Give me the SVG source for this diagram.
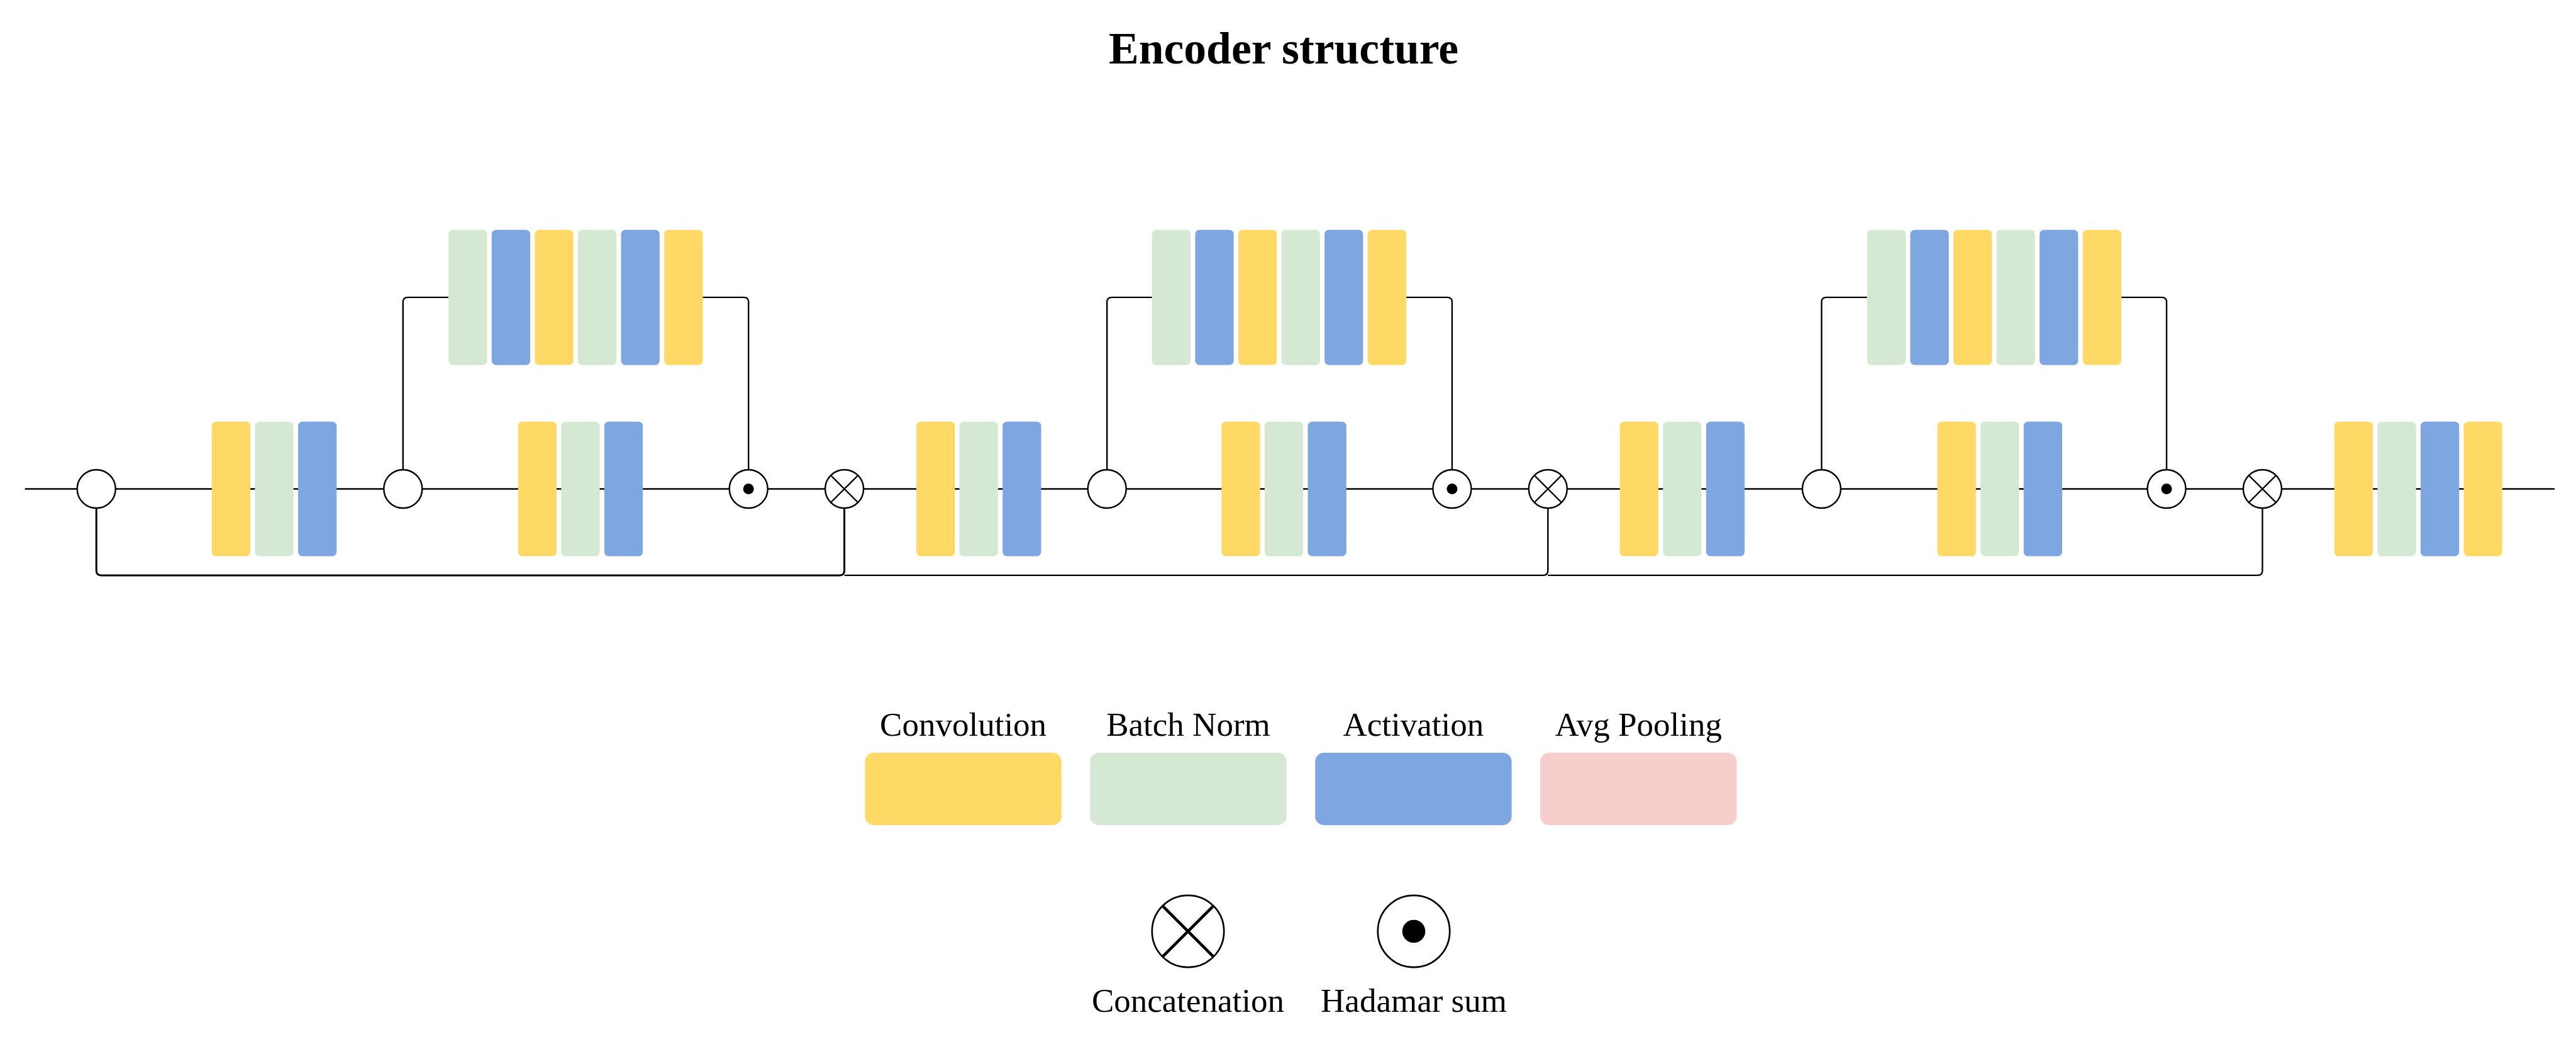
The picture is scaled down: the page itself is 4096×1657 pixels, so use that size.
<svg xmlns="http://www.w3.org/2000/svg" width="4096" height="1657" viewBox="0 0 4096 1657">
<style>
.y{fill:#FFD966}.g{fill:#D5E8D4}.b{fill:#7EA6E0}.p{fill:#F8CECC}
.ln{fill:none;stroke:#000;stroke-width:2.4}
.bus{fill:none;stroke:#000;stroke-width:3}
.op{fill:#fff;stroke:#000;stroke-width:2.4}
.x{stroke:#000;stroke-width:2.4}
.t{font-family:"Liberation Serif","Times New Roman",serif;fill:#000;text-anchor:middle}
</style>
<rect width="4096" height="1657" fill="#fff"/>
<text class="t" x="2041" y="101" font-size="71.6" font-weight="bold">Encoder structure</text>

<g id="connectors">
  <path class="ln" d="M39.6,777.5 H4062"/>
  <path class="bus" d="M153.2,808 V907.3 Q153.2,914.9 160.8,914.9 H1335 Q1342.6,914.9 1342.6,907.3 V808"/>
  <path class="ln" d="M1342.6,914.9 H2453.7 Q2461.3,914.9 2461.3,907.3 V808"/>
  <path class="ln" d="M2461.3,914.9 H3589.8 Q3597.4,914.9 3597.4,907.3 V808"/>
  <path class="ln" d="M640.8,747 V480.5 Q640.8,472.9 648.4,472.9 H713.2"/>
  <path class="ln" d="M1117.4,472.9 H1182.6 Q1190.2,472.9 1190.2,480.5 V747"/>
  <path class="ln" d="M1760.2,747 V480.5 Q1760.2,472.9 1767.8,472.9 H1831.8"/>
  <path class="ln" d="M2236,472.9 H2301.3 Q2308.9,472.9 2308.9,480.5 V747"/>
  <path class="ln" d="M2896.4,747 V480.5 Q2896.4,472.9 2904,472.9 H2968.8"/>
  <path class="ln" d="M3373,472.9 H3437.4 Q3445,472.9 3445,480.5 V747"/>
</g>

<g id="split1"><circle class="op" cx="153.2" cy="777.5" r="30.5"/></g>
<g id="block1">
  <rect class="y" x="336.8" y="670.5" width="61.3" height="214" rx="7"/>
  <rect class="g" x="405.4" y="670.5" width="61.3" height="214" rx="7"/>
  <rect class="b" x="474" y="670.5" width="61.3" height="214" rx="7"/>
</g>
<g id="split2"><circle class="op" cx="640.8" cy="777.5" r="30.5"/></g>
<g id="block2">
  <rect class="y" x="823.7" y="670.5" width="61.3" height="214" rx="7"/>
  <rect class="g" x="892.3" y="670.5" width="61.3" height="214" rx="7"/>
  <rect class="b" x="960.9" y="670.5" width="61.3" height="214" rx="7"/>
</g>
<g id="top1">
  <rect class="g" x="713.2" y="365.5" width="61.3" height="215" rx="7"/>
  <rect class="b" x="781.8" y="365.5" width="61.3" height="215" rx="7"/>
  <rect class="y" x="850.4" y="365.5" width="61.3" height="215" rx="7"/>
  <rect class="g" x="918.9" y="365.5" width="61.3" height="215" rx="7"/>
  <rect class="b" x="987.5" y="365.5" width="61.3" height="215" rx="7"/>
  <rect class="y" x="1056.1" y="365.5" width="61.3" height="215" rx="7"/>
</g>
<g id="hadamard1"><circle class="op" cx="1190.2" cy="777.5" r="30.5"/><circle cx="1190.2" cy="777.5" r="8.5"/></g>
<g id="concat1"><circle class="op" cx="1342.6" cy="777.5" r="30.5"/><path class="x" d="M1321,756 L1364.2,799 M1364.2,756 L1321,799"/></g>

<g id="block3">
  <rect class="y" x="1457" y="670.5" width="61.3" height="214" rx="7"/>
  <rect class="g" x="1525.6" y="670.5" width="61.3" height="214" rx="7"/>
  <rect class="b" x="1594.2" y="670.5" width="61.3" height="214" rx="7"/>
</g>
<g id="split3"><circle class="op" cx="1760.2" cy="777.5" r="30.5"/></g>
<g id="block4">
  <rect class="y" x="1942.3" y="670.5" width="61.3" height="214" rx="7"/>
  <rect class="g" x="2010.9" y="670.5" width="61.3" height="214" rx="7"/>
  <rect class="b" x="2079.5" y="670.5" width="61.3" height="214" rx="7"/>
</g>
<g id="top2">
  <rect class="g" x="1831.8" y="365.5" width="61.3" height="215" rx="7"/>
  <rect class="b" x="1900.4" y="365.5" width="61.3" height="215" rx="7"/>
  <rect class="y" x="1969" y="365.5" width="61.3" height="215" rx="7"/>
  <rect class="g" x="2037.5" y="365.5" width="61.3" height="215" rx="7"/>
  <rect class="b" x="2106.1" y="365.5" width="61.3" height="215" rx="7"/>
  <rect class="y" x="2174.7" y="365.5" width="61.3" height="215" rx="7"/>
</g>
<g id="hadamard2"><circle class="op" cx="2308.9" cy="777.5" r="30.5"/><circle cx="2308.9" cy="777.5" r="8.5"/></g>
<g id="concat2"><circle class="op" cx="2461.3" cy="777.5" r="30.5"/><path class="x" d="M2439.7,756 L2482.9,799 M2482.9,756 L2439.7,799"/></g>

<g id="block5">
  <rect class="y" x="2575.6" y="670.5" width="61.3" height="214" rx="7"/>
  <rect class="g" x="2644.2" y="670.5" width="61.3" height="214" rx="7"/>
  <rect class="b" x="2712.8" y="670.5" width="61.3" height="214" rx="7"/>
</g>
<g id="split4"><circle class="op" cx="2896.4" cy="777.5" r="30.5"/></g>
<g id="block6">
  <rect class="y" x="3080.5" y="670.5" width="61.3" height="214" rx="7"/>
  <rect class="g" x="3149.1" y="670.5" width="61.3" height="214" rx="7"/>
  <rect class="b" x="3217.7" y="670.5" width="61.3" height="214" rx="7"/>
</g>
<g id="top3">
  <rect class="g" x="2968.8" y="365.5" width="61.3" height="215" rx="7"/>
  <rect class="b" x="3037.4" y="365.5" width="61.3" height="215" rx="7"/>
  <rect class="y" x="3106" y="365.5" width="61.3" height="215" rx="7"/>
  <rect class="g" x="3174.5" y="365.5" width="61.3" height="215" rx="7"/>
  <rect class="b" x="3243.1" y="365.5" width="61.3" height="215" rx="7"/>
  <rect class="y" x="3311.7" y="365.5" width="61.3" height="215" rx="7"/>
</g>
<g id="hadamard3"><circle class="op" cx="3445" cy="777.5" r="30.5"/><circle cx="3445" cy="777.5" r="8.5"/></g>
<g id="concat3"><circle class="op" cx="3597.4" cy="777.5" r="30.5"/><path class="x" d="M3575.8,756 L3619,799 M3619,756 L3575.8,799"/></g>

<g id="block7">
  <rect class="y" x="3711.7" y="670.5" width="61.3" height="214" rx="7"/>
  <rect class="g" x="3780.3" y="670.5" width="61.3" height="214" rx="7"/>
  <rect class="b" x="3848.9" y="670.5" width="61.3" height="214" rx="7"/>
  <rect class="y" x="3917.5" y="670.5" width="61.3" height="214" rx="7"/>
</g>

<g id="legend">
  <g id="leg-conv">
    <text class="t" x="1531.6" y="1169.7" font-size="53">Convolution</text>
    <rect class="y" x="1375.4" y="1197.1" width="312.4" height="115.1" rx="14"/>
  </g>
  <g id="leg-bn">
    <text class="t" x="1889.5" y="1169.7" font-size="53">Batch Norm</text>
    <rect class="g" x="1733.3" y="1197.1" width="312.4" height="115.1" rx="14"/>
  </g>
  <g id="leg-act">
    <text class="t" x="2247.4" y="1169.7" font-size="53">Activation</text>
    <rect class="b" x="2091.2" y="1197.1" width="312.4" height="115.1" rx="14"/>
  </g>
  <g id="leg-pool">
    <text class="t" x="2605.3" y="1169.7" font-size="53">Avg Pooling</text>
    <rect class="p" x="2449.1" y="1197.1" width="312.4" height="115.1" rx="14"/>
  </g>
  <g id="leg-concat">
    <circle cx="1889" cy="1481" r="57.2" fill="#fff" stroke="#000" stroke-width="2.7"/>
    <path d="M1848.6,1440.6 L1929.4,1521.4 M1929.4,1440.6 L1848.6,1521.4" stroke="#000" stroke-width="4.6"/>
    <text class="t" x="1889" y="1609.3" font-size="53">Concatenation</text>
  </g>
  <g id="leg-hadamard">
    <circle cx="2248" cy="1481" r="57.2" fill="#fff" stroke="#000" stroke-width="2.7"/>
    <circle cx="2248" cy="1481" r="18.3"/>
    <text class="t" x="2248" y="1609.3" font-size="53">Hadamar sum</text>
  </g>
</g>
</svg>
